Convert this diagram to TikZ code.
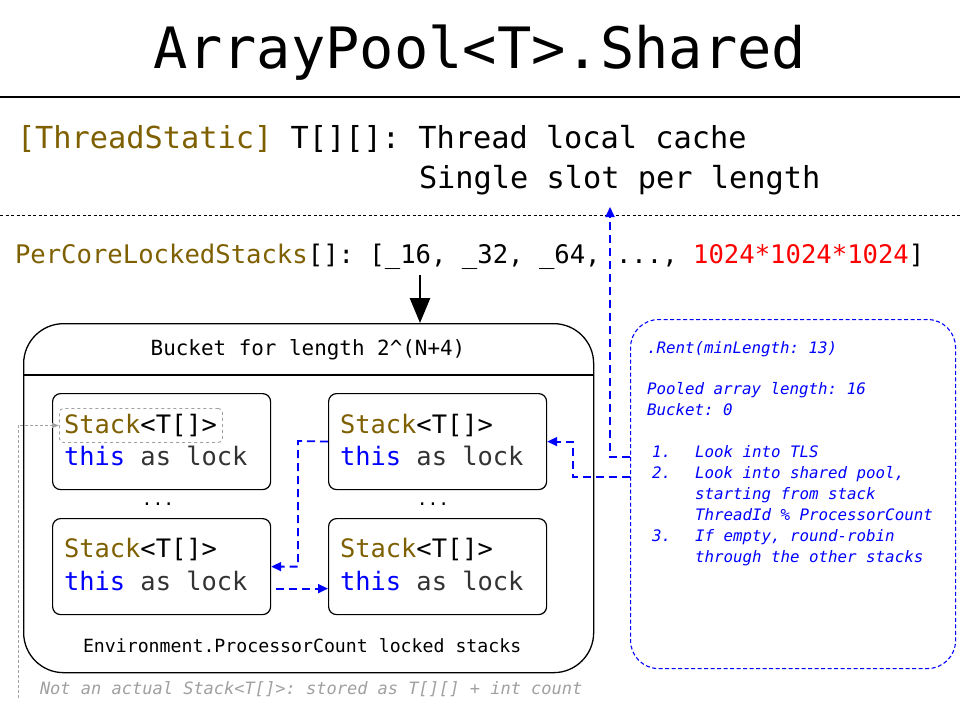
\documentclass[tikz,border=0pt]{standalone}
\usepackage{fontspec}
\setmainfont{DejaVu Sans Mono}
\usetikzlibrary{arrows.meta}
\definecolor{typebrown}{HTML}{7F6000}
\definecolor{kwblue}{HTML}{0000FF}
\definecolor{lockgray}{HTML}{333333}
\definecolor{notegray}{HTML}{A0A0A0}
\definecolor{codered}{HTML}{FF0000}
\newcommand{\setfs}[1]{\fontsize{#1}{#1}\selectfont\frenchspacing}
\tikzset{
  txt/.style={anchor=base west, inner sep=0pt, outer sep=0pt},
  stackbox/.style={draw, line width=1.2pt, rounded corners=8pt, minimum width=218pt, minimum height=96pt, anchor=north west, inner sep=0pt},
  stacktxt/.style={txt, font=\setfs{25.4}},
  notetxt/.style={txt, font=\setfs{15.8}\itshape, text=kwblue},
  bluearrow/.style={draw=kwblue, line width=1.8pt, dash pattern=on 8pt off 5pt, -{Triangle[length=10pt,width=9pt]}},
}
\begin{document}
\frenchspacing
\begin{tikzpicture}[x=1pt, y=-1pt]
\useasboundingbox (0,0) rectangle (960,720);
\fill[white] (0,0) rectangle (960,720);

% title
\node[anchor=base, inner sep=0pt, font=\setfs{57}] (title) at (480,68) {ArrayPool<T>.Shared};
\coordinate (sepL) at (0,97);
\coordinate (sepR) at (960,97);
\draw[line width=1.3pt] (sepL) -- (sepR);

% thread static
\node[txt, font=\setfs{30.3}] (ts) at (17,148) {\textcolor{typebrown}{[ThreadStatic]} T[][]: Thread local cache};
\node[txt, font=\setfs{30.3}] (ts2) at (419,188) {Single slot per length};
\coordinate (dashL) at (0,215);
\coordinate (dashR) at (960,215);
\draw[line width=0.9pt, dash pattern=on 3pt off 2.5pt] (dashL) -- (dashR);

% per core
\node[txt, font=\setfs{25.6}] (pc) at (15,263) {\textcolor{typebrown}{PerCoreLockedStacks}[]: [\_16, \_32, \_64, ..., \textcolor{codered}{1024*1024*1024}]};

% bucket
\node[draw, line width=1.3pt, rounded corners=40pt, minimum width=570pt, minimum height=349pt, anchor=north west, inner sep=0pt] (bucket) at (23,323) {};
\coordinate (arrtop) at (420,275);
\draw[line width=2.8pt, -{Triangle[length=25pt,width=20pt]}] (arrtop) -- (arrtop |- bucket.north);
\coordinate (bsepL) at (23,375);
\coordinate (bsepR) at (593,375);
\draw[line width=1.2pt] (bsepL) -- (bsepR);
\node[anchor=base, inner sep=0pt, font=\setfs{20.9}] (btitle) at (308,355) {Bucket for length 2\textasciicircum(N+4)};

% stacks
\node[stackbox] (s1) at (52,393) {};
\node[stackbox] (s2) at (328,393) {};
\node[stackbox] (s3) at (52,518) {};
\node[stackbox] (s4) at (328,518) {};

\node[stacktxt] (s1a) at (64,433) {\textcolor{typebrown}{Stack}<T[]>};
\node[stacktxt] (s1b) at (64,465) {\textcolor{kwblue}{this} \textcolor{lockgray}{as lock}};
\node[stacktxt] (s2a) at (340,433) {\textcolor{typebrown}{Stack}<T[]>};
\node[stacktxt] (s2b) at (340,465) {\textcolor{kwblue}{this} \textcolor{lockgray}{as lock}};
\node[stacktxt] (s3a) at (64,557) {\textcolor{typebrown}{Stack}<T[]>};
\node[stacktxt] (s3b) at (64,590) {\textcolor{kwblue}{this} \textcolor{lockgray}{as lock}};
\node[stacktxt] (s4a) at (340,557) {\textcolor{typebrown}{Stack}<T[]>};
\node[stacktxt] (s4b) at (340,590) {\textcolor{kwblue}{this} \textcolor{lockgray}{as lock}};

\node[anchor=base, inner sep=0pt, font=\setfs{18}] (dots1) at (158,505) {...};
\node[anchor=base, inner sep=0pt, font=\setfs{18}] (dots2) at (433,505) {...};

\node[txt, font=\setfs{18.2}] (env) at (83,652) {Environment.ProcessorCount locked stacks};

% highlight of Stack<T[]>
\node[draw=notegray, dashed, line width=0.9pt, rounded corners=4pt, minimum width=163pt, minimum height=34pt, anchor=north west, inner sep=0pt] (hl) at (59,408) {};
\coordinate (gfoot) at (18,698);
\draw[notegray, line width=0.9pt, dash pattern=on 3pt off 2pt, -{Triangle[length=7pt,width=5pt]}] (gfoot) |- (hl.west);
\node[txt, font=\setfs{17}\itshape, text=notegray] (foot) at (40,694) {Not an actual Stack<T[]>: stored as T[][] + int count};

% note box
\node[draw=kwblue, line width=1.1pt, dash pattern=on 4pt off 2.5pt, rounded corners=28pt, minimum width=325pt, minimum height=349pt, anchor=north west, inner sep=0pt] (note) at (630,319) {};
\node[notetxt] (n1) at (647,353) {.Rent(minLength: 13)};
\node[notetxt] (n2) at (647,394) {Pooled array length: 16};
\node[notetxt] (n3) at (647,415) {Bucket: 0};
\node[notetxt] (n4) at (652,457) {1.};
\node[notetxt] (n5) at (695,457) {Look into TLS};
\node[notetxt] (n6) at (652,478) {2.};
\node[notetxt] (n7) at (695,478) {Look into shared pool,};
\node[notetxt] (n8) at (695,499) {starting from stack};
\node[notetxt] (n9) at (695,520) {ThreadId \% ProcessorCount};
\node[notetxt] (n10) at (652,541) {3.};
\node[notetxt] (n11) at (695,541) {If empty, round-robin};
\node[notetxt] (n12) at (695,562) {through the other stacks};

% blue arrows
\coordinate (tlsTip) at (610,207);
\draw[bluearrow] (note.west |- 0,457) -| (tlsTip);
\coordinate (bturn) at (573,477);
\draw[bluearrow] (note.west |- 0,477) -- (bturn) |- (s2.east);
\coordinate (cturn) at (298,441);
\draw[bluearrow] (s2.west) -- (cturn) |- (s3.east);
\coordinate (dstart) at ([xshift=5pt, yshift=-22pt]s3.east);
\draw[bluearrow] (dstart) -- (dstart -| s4.west);
\end{tikzpicture}
\end{document}
